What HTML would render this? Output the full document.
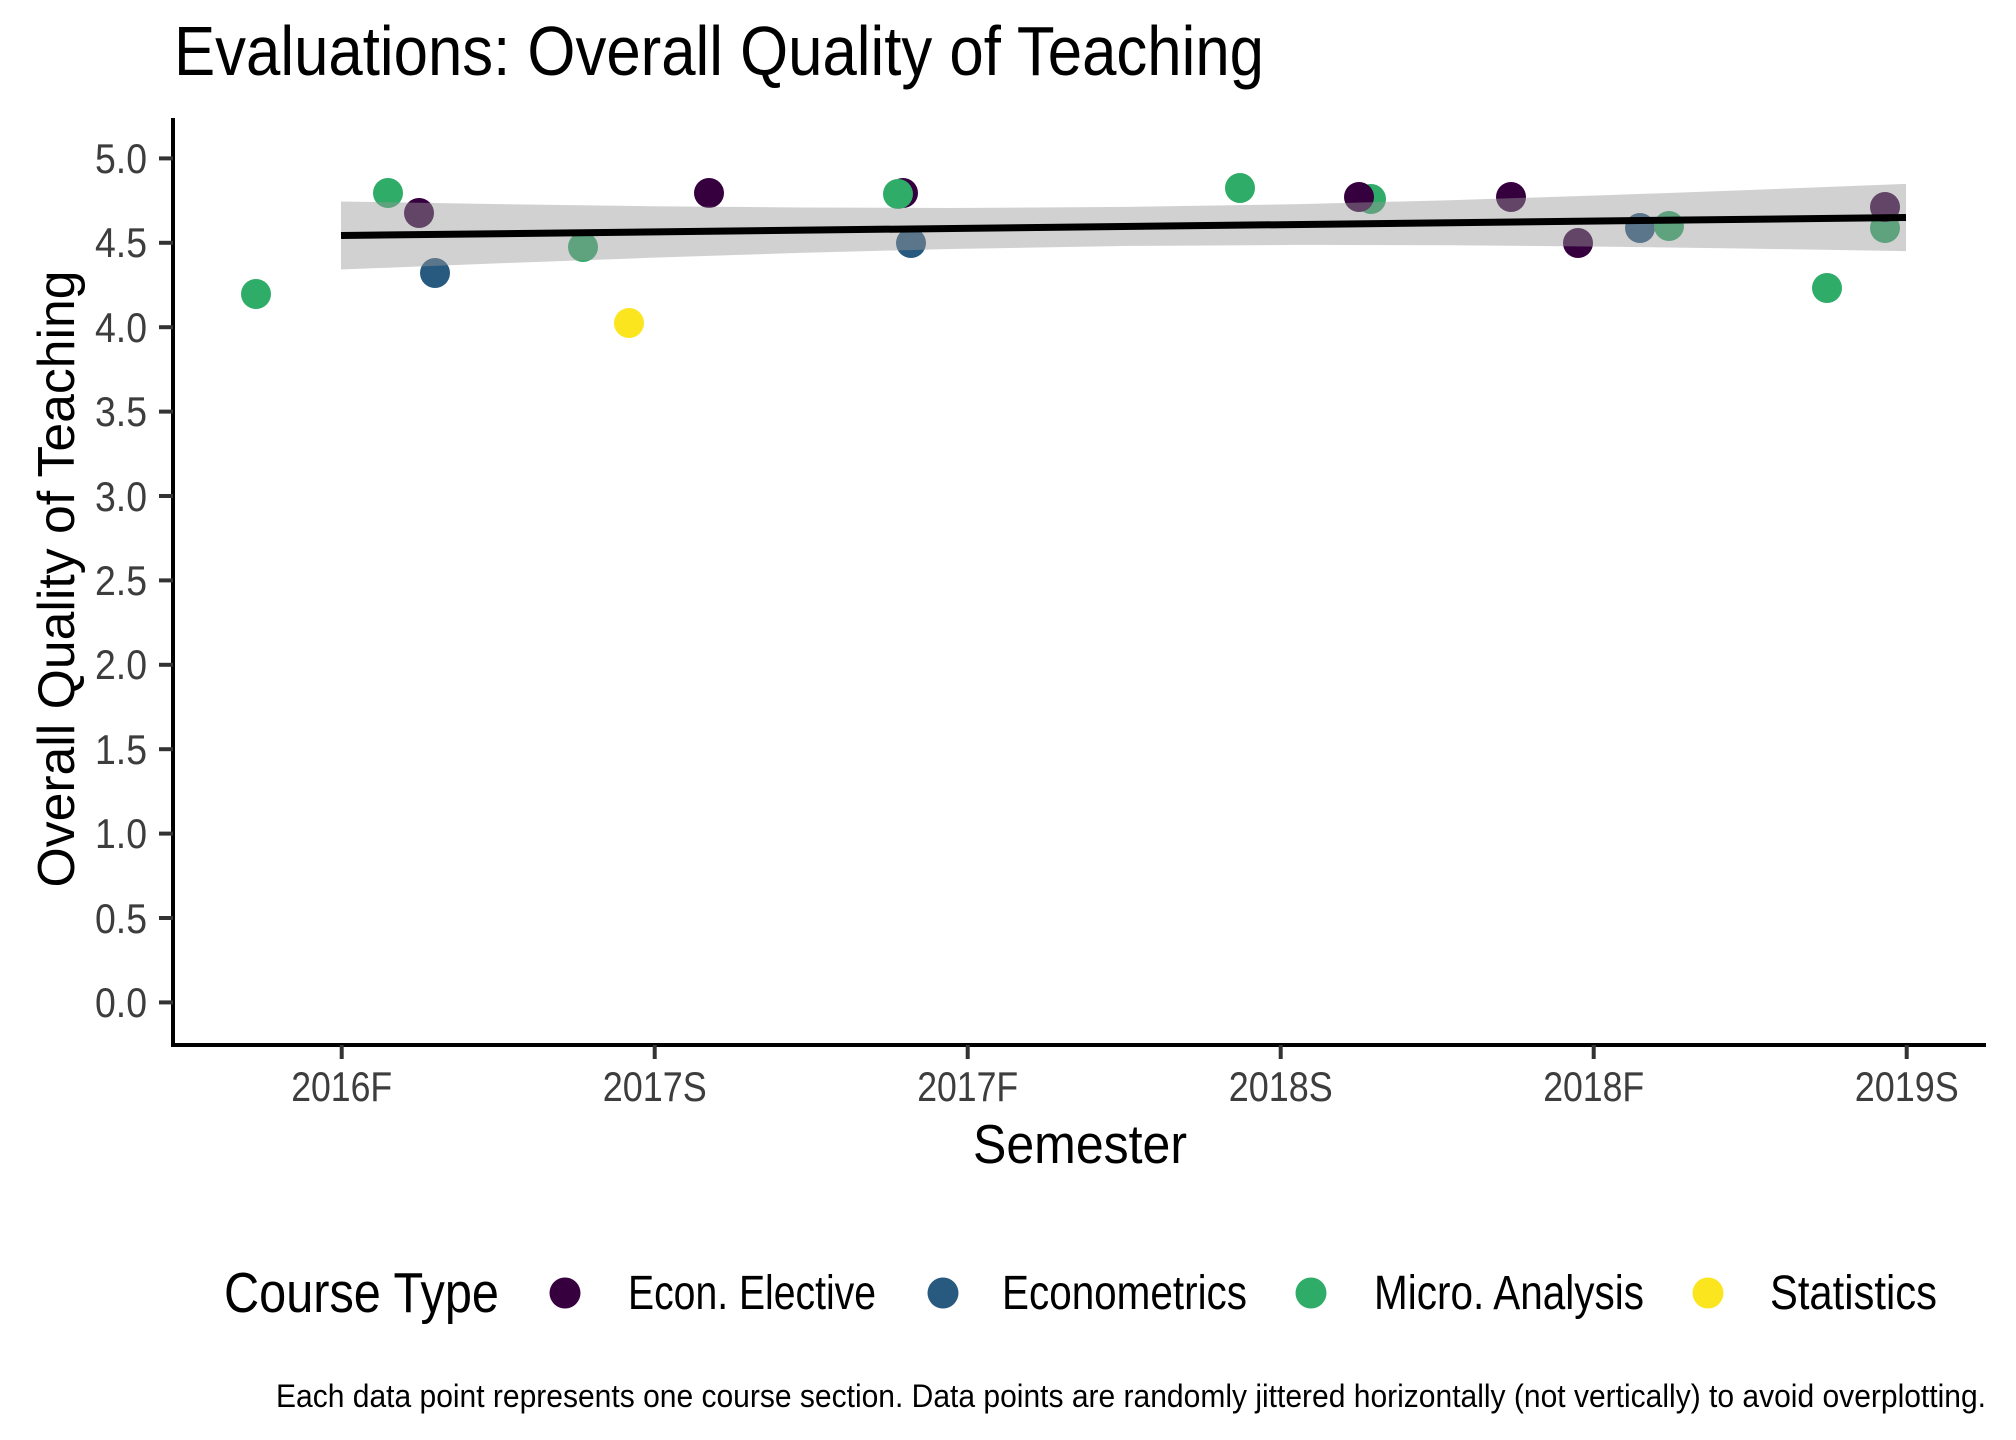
<!DOCTYPE html>
<html><head><meta charset="utf-8"><style>html,body{margin:0;padding:0;background:#fff;}svg{display:block;}</style></head>
<body>
<svg width="2016" height="1440" viewBox="0 0 2016 1440" xmlns="http://www.w3.org/2000/svg" font-family="'Liberation Sans', sans-serif">
<rect width="2016" height="1440" fill="#fff"/>
<text x="174" y="75" font-size="70" textLength="1090" lengthAdjust="spacingAndGlyphs" fill="#000">Evaluations: Overall Quality of Teaching</text>

<g>
<circle cx="256" cy="294" r="15" fill="#2eac68"/>
<circle cx="388" cy="193" r="15" fill="#2eac68"/>
<circle cx="419" cy="213" r="15" fill="#36003f"/>
<circle cx="435" cy="273" r="15" fill="#285a80"/>
<circle cx="583" cy="247" r="15" fill="#2eac68"/>
<circle cx="629" cy="323" r="15" fill="#fbe51f"/>
<circle cx="709" cy="193" r="15" fill="#36003f"/>
<circle cx="903" cy="193" r="15" fill="#36003f"/>
<circle cx="898" cy="194" r="15" fill="#2eac68"/>
<circle cx="911" cy="243" r="15" fill="#285a80"/>
<circle cx="1240" cy="188" r="15" fill="#2eac68"/>
<circle cx="1371" cy="199" r="15" fill="#2eac68"/>
<circle cx="1359" cy="197" r="15" fill="#36003f"/>
<circle cx="1511" cy="197" r="15" fill="#36003f"/>
<circle cx="1578" cy="243" r="15" fill="#36003f"/>
<circle cx="1640" cy="228" r="15" fill="#285a80"/>
<circle cx="1669" cy="226" r="15" fill="#2eac68"/>
<circle cx="1827" cy="288" r="15" fill="#2eac68"/>
<circle cx="1885" cy="228" r="15" fill="#2eac68"/>
<circle cx="1885" cy="207" r="15" fill="#36003f"/>
</g>

<polygon fill="#999" fill-opacity="0.45" points="341,201.5 500,204.1 650,206.2 800,207.5 950,208 1130,206.9 1300,204.1 1450,200.2 1600,195.4 1750,190 1906,183.9 1906,251.1 1750,248.6 1600,246.6 1450,245.2 1300,244.9 1130,245.9 950,249 800,252.9 650,257.8 500,263.3 341,269.5"/>
<line x1="341" y1="235.5" x2="1906" y2="217.5" stroke="#000" stroke-width="7"/>

<line x1="173" y1="118" x2="173" y2="1047" stroke="#000" stroke-width="4"/>
<line x1="171" y1="1045" x2="1986" y2="1045" stroke="#000" stroke-width="4"/>

<g stroke="#333" stroke-width="4">
<line x1="159" y1="158.4" x2="173" y2="158.4"/>
<line x1="159" y1="242.8" x2="173" y2="242.8"/>
<line x1="159" y1="327.2" x2="173" y2="327.2"/>
<line x1="159" y1="411.6" x2="173" y2="411.6"/>
<line x1="159" y1="496" x2="173" y2="496"/>
<line x1="159" y1="580.4" x2="173" y2="580.4"/>
<line x1="159" y1="664.8" x2="173" y2="664.8"/>
<line x1="159" y1="749.2" x2="173" y2="749.2"/>
<line x1="159" y1="833.6" x2="173" y2="833.6"/>
<line x1="159" y1="918" x2="173" y2="918"/>
<line x1="159" y1="1002.4" x2="173" y2="1002.4"/>
<line x1="341.7" y1="1045" x2="341.7" y2="1059"/>
<line x1="654.7" y1="1045" x2="654.7" y2="1059"/>
<line x1="967.7" y1="1045" x2="967.7" y2="1059"/>
<line x1="1280.7" y1="1045" x2="1280.7" y2="1059"/>
<line x1="1593.7" y1="1045" x2="1593.7" y2="1059"/>
<line x1="1906.7" y1="1045" x2="1906.7" y2="1059"/>
</g>

<g font-size="42" fill="#3d3d3d" text-anchor="end">
<text x="147" y="173" textLength="52" lengthAdjust="spacingAndGlyphs">5.0</text>
<text x="147" y="257" textLength="52" lengthAdjust="spacingAndGlyphs">4.5</text>
<text x="147" y="342" textLength="52" lengthAdjust="spacingAndGlyphs">4.0</text>
<text x="147" y="426" textLength="52" lengthAdjust="spacingAndGlyphs">3.5</text>
<text x="147" y="511" textLength="52" lengthAdjust="spacingAndGlyphs">3.0</text>
<text x="147" y="595" textLength="52" lengthAdjust="spacingAndGlyphs">2.5</text>
<text x="147" y="679" textLength="52" lengthAdjust="spacingAndGlyphs">2.0</text>
<text x="147" y="764" textLength="52" lengthAdjust="spacingAndGlyphs">1.5</text>
<text x="147" y="848" textLength="52" lengthAdjust="spacingAndGlyphs">1.0</text>
<text x="147" y="933" textLength="52" lengthAdjust="spacingAndGlyphs">0.5</text>
<text x="147" y="1017" textLength="52" lengthAdjust="spacingAndGlyphs">0.0</text>
</g>
<g font-size="42" fill="#3d3d3d" text-anchor="middle">
<text x="341.7" y="1101" textLength="101" lengthAdjust="spacingAndGlyphs">2016F</text>
<text x="654.7" y="1101" textLength="104" lengthAdjust="spacingAndGlyphs">2017S</text>
<text x="967.7" y="1101" textLength="101" lengthAdjust="spacingAndGlyphs">2017F</text>
<text x="1280.7" y="1101" textLength="104" lengthAdjust="spacingAndGlyphs">2018S</text>
<text x="1593.7" y="1101" textLength="101" lengthAdjust="spacingAndGlyphs">2018F</text>
<text x="1906.7" y="1101" textLength="104" lengthAdjust="spacingAndGlyphs">2019S</text>
</g>

<text x="1080" y="1163" font-size="55" text-anchor="middle" textLength="214" lengthAdjust="spacingAndGlyphs" fill="#000">Semester</text>
<text transform="translate(74,579) rotate(-90)" x="0" y="0" font-size="52" text-anchor="middle" textLength="617" lengthAdjust="spacingAndGlyphs" fill="#000">Overall Quality of Teaching</text>

<text x="224" y="1312" font-size="57" textLength="275" lengthAdjust="spacingAndGlyphs" fill="#000">Course Type</text>
<circle cx="565" cy="1293" r="15.5" fill="#36003f"/>
<text x="628" y="1309" font-size="48" textLength="248" lengthAdjust="spacingAndGlyphs" fill="#000">Econ. Elective</text>
<circle cx="943" cy="1293" r="15.5" fill="#285a80"/>
<text x="1002" y="1309" font-size="48" textLength="245" lengthAdjust="spacingAndGlyphs" fill="#000">Econometrics</text>
<circle cx="1311" cy="1293" r="15.5" fill="#2eac68"/>
<text x="1374" y="1309" font-size="48" textLength="270" lengthAdjust="spacingAndGlyphs" fill="#000">Micro. Analysis</text>
<circle cx="1708" cy="1293" r="15.5" fill="#fbe51f"/>
<text x="1770" y="1309" font-size="48" textLength="167" lengthAdjust="spacingAndGlyphs" fill="#000">Statistics</text>

<text x="276" y="1407" font-size="32" textLength="1710" lengthAdjust="spacingAndGlyphs" fill="#000">Each data point represents one course section. Data points are randomly jittered horizontally (not vertically) to avoid overplotting.</text>
</svg>
</body></html>
